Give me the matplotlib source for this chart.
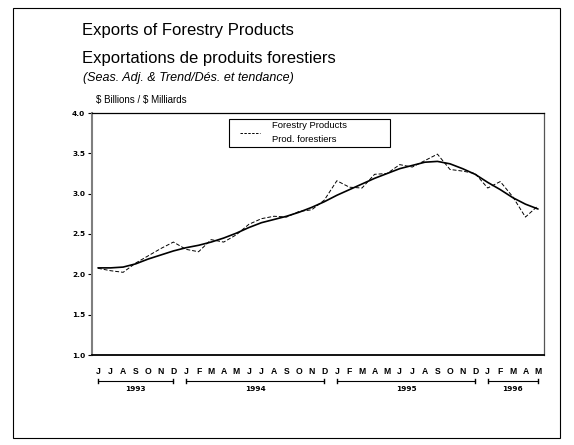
"""
    Exports of Forestry Products, seasonally adjusted and trend
"""
import numpy as np
import matplotlib.pyplot as plt
from matplotlib.patches import Rectangle
from matplotlib.lines import Line2D
import matplotlib.transforms as mtransforms

plt.rcParams['font.family'] = ['Liberation Sans', 'DejaVu Sans']

# data, June 1993 to May 1996
months = ["J", "J", "A", "S", "O", "N", "D",
          "J", "F", "M", "A", "M", "J", "J", "A", "S", "O", "N", "D",
          "J", "F", "M", "A", "M", "J", "J", "A", "S", "O", "N", "D",
          "J", "F", "M", "A", "M"]
years = ["1993", "1994", "1995", "1996"]
months_per_year = [7, 12, 12, 5]
seas_adj = [2.075, 2.045, 2.025, 2.14, 2.23, 2.32, 2.40,
            2.31, 2.28, 2.43, 2.40, 2.49, 2.62, 2.69, 2.72, 2.71, 2.78, 2.80, 2.92,
            3.16, 3.08, 3.07, 3.24, 3.25, 3.36, 3.33, 3.41, 3.49, 3.30, 3.28, 3.25,
            3.07, 3.15, 2.96, 2.71, 2.85]
trend = [2.08, 2.08, 2.09, 2.13, 2.19, 2.24, 2.29,
         2.33, 2.36, 2.40, 2.45, 2.51, 2.58, 2.64, 2.68, 2.72, 2.77, 2.83, 2.90,
         2.98, 3.05, 3.12, 3.19, 3.25, 3.31, 3.35, 3.39, 3.40, 3.37, 3.31, 3.24,
         3.14, 3.05, 2.95, 2.87, 2.81]
yticks = [1.0, 1.5, 2.0, 2.5, 3.0, 3.5, 4.0]

W, H = 574, 445
numfont = dict(family="DejaVu Sans", size=5.3, weight="bold")
monthfont = dict(family="Liberation Sans", size=6.2, weight="bold")

fig = plt.figure(figsize=(W / 100, H / 100), dpi=100)
ax = fig.add_axes([92 / W, 1 - 355 / H, (544 - 92) / W, (355 - 113) / H])

x = np.arange(len(months))
ax.plot(x, trend, color="black", lw=1.2, solid_capstyle="round")
ax.plot(x, seas_adj, color="black", lw=0.7, dashes=(4, 2))

ax.set_xlim(-0.477, len(months) - 1 + 0.477)
ax.set_ylim(1.0, 4.0)
ax.set_yticks(yticks)
ax.set_yticklabels(["%.1f" % v for v in yticks], fontdict=numfont)
ax.tick_params(axis="y", length=3, width=0.8, pad=2)
ax.set_xticks(x)
ax.set_xticklabels(months, fontdict=monthfont)
ax.tick_params(axis="x", length=0, pad=8.5)

ax.spines["left"].set_color("#7f7f7f")
ax.spines["left"].set_linewidth(1.5)
ax.spines["bottom"].set_linewidth(1.3)
ax.spines["top"].set_linewidth(0.9)
ax.spines["right"].set_color("#555555")
ax.spines["right"].set_linewidth(0.9)

# year brackets under the month labels
trans = mtransforms.blended_transform_factory(ax.transData, fig.transFigure)
start = 0
for yr, n in zip(years, months_per_year):
    x0, x1 = start, start + n - 1
    yb = 1 - 380.5 / H
    ax.plot([x0, x1], [yb, yb], color="black", lw=0.8, transform=trans, clip_on=False)
    for xe in (x0, x1):
        ax.plot([xe, xe], [yb - 2 / H, yb + 2 / H], color="black", lw=1.0,
                transform=trans, clip_on=False)
    ax.text((x0 + x1) / 2, 1 - 389 / H, yr, transform=trans, ha="center", va="center",
            fontdict=numfont)
    start += n

# legend box, drawn by hand
fig.patches.append(Rectangle((229 / W, 1 - 147 / H), (390 - 229) / W, (147 - 119) / H,
                             transform=fig.transFigure, facecolor="white",
                             edgecolor="black", lw=0.8))
fig.lines.append(Line2D([240 / W, 260 / W], [1 - 133 / H, 1 - 133 / H],
                        transform=fig.transFigure, color="black", lw=0.7,
                        dashes=(2.5, 1.5)))
fig.text(272 / W, 1 - 126 / H, "Forestry Products", fontsize=6.8, va="center")
fig.text(272 / W, 1 - 140 / H, "Prod. forestiers", fontsize=6.8, va="center")

# titles
fig.text(82 / W, 1 - 31 / H, "Exports of Forestry Products", fontsize=12, va="center")
fig.text(82 / W, 1 - 59 / H, "Exportations de produits forestiers", fontsize=12, va="center")
fig.text(83 / W, 1 - 78 / H, "(Seas. Adj. & Trend/Dés. et tendance)", fontsize=9,
         style="italic", va="center")
fig.text(96 / W, 1 - 100 / H, r"\$ Billions / \$ Milliards", fontsize=7, va="center")

# page border
fig.patches.append(Rectangle((13 / W, 1 - 438 / H), (560 - 13) / W, (438 - 8) / H,
                             transform=fig.transFigure, fill=False, edgecolor="black",
                             lw=0.8))

fig.savefig("out.png", dpi=100)
